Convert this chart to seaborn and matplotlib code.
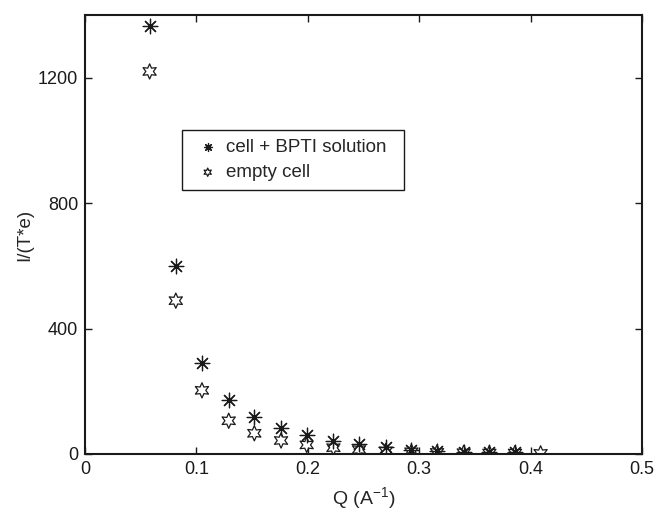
import numpy as np
import pandas as pd
import seaborn as sns
import matplotlib
matplotlib.use('Agg')
import matplotlib.pyplot as plt

sns.set_style('ticks')
plt.rcParams['font.family'] = ['Liberation Sans', 'DejaVu Sans']
plt.rcParams['mathtext.default'] = 'regular'

# Q values (A^-1) and intensities
q = [0.058, 0.0815, 0.105, 0.129, 0.152, 0.176, 0.199, 0.223,
     0.246, 0.270, 0.293, 0.316, 0.340, 0.363, 0.386, 0.409]
cell_bpti = [1365, 601, 289, 173, 117, 83, 62, 41,
             32, 21, 14, 10, 7, 6, 5]
empty_cell = [1220, 489, 203, 106, 66, 43, 29, 20,
              14, 10, 7, 5, 4, 3, 3, 2]

xticks = [0, 0.1, 0.2, 0.3, 0.4, 0.5]
yticks = [0, 400, 800, 1200]

df_cell = pd.DataFrame({'Q': q[:len(cell_bpti)], 'I': cell_bpti})
df_empty = pd.DataFrame({'Q': q, 'I': empty_cell})

fig = plt.figure(figsize=(6.56, 5.12), dpi=100)
ax = fig.add_axes([0.1296, 0.1133, 0.849, 0.8574])

sns.scatterplot(data=df_cell, x='Q', y='I', ax=ax, marker=(8, 2, 0), s=110,
                color='#1a1a1a', linewidth=0.9, label='cell + BPTI solution')
sns.scatterplot(data=df_empty, x='Q', y='I', ax=ax, marker=(6, 1, 0), s=120,
                facecolor='none', edgecolor='#1a1a1a', linewidth=0.9,
                label='empty cell')

ax.set_xlim(0, 0.5)
ax.set_ylim(0, 1400)
ax.set_xticks(xticks)
ax.set_xticklabels(['0', '0.1', '0.2', '0.3', '0.4', '0.5'])
ax.set_yticks(yticks)
ax.tick_params(direction='in', top=True, right=True, length=5, width=1,
               labelsize=13, colors='#1a1a1a', pad=5)
for sp in ax.spines.values():
    sp.set_linewidth(1.5)
    sp.set_color('#1a1a1a')

ax.set_xlabel(r'Q (A$^{-1}$)', fontsize=14, labelpad=5)
ax.set_ylabel('I/(T*e)', fontsize=13.5, labelpad=3)

# legend box stretched to the width seen in the reference
leg = ax.legend(loc='upper left', bbox_to_anchor=(0.174, 0.606, 0.399, 0.132),
                mode='expand', borderaxespad=0, fancybox=False, framealpha=1,
                edgecolor='#1a1a1a', fontsize=13.5, markerscale=0.55,
                handlelength=1.85, handletextpad=0.05, labelspacing=0.45,
                borderpad=0.45)
leg.get_frame().set_linewidth(1.0)

fig.savefig('out.png', dpi=100)
